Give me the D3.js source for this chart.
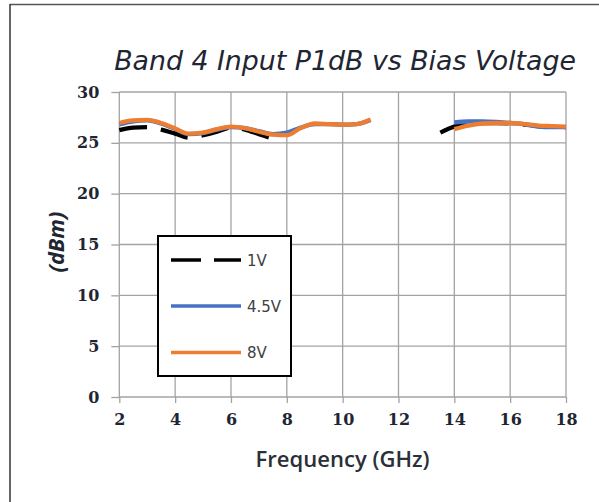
<!DOCTYPE html>
<html><head><meta charset="utf-8">
<script src="https://cdn.jsdelivr.net/npm/d3@7"></script>
<style>body{margin:0;background:#fff;}svg{display:block;}</style>
</head><body>
<script>
const freq = [2,2.5,3,3.5,4,4.5,5,5.5,6,6.5,7,7.5,8,8.5,9,9.5,10,10.5,11,11.5,12,12.5,13,13.5,14,14.5,15,15.5,16,16.5,17,17.5,18];
const p1V  = [26.25,26.5,26.55,26.3,25.9,25.5,25.75,26.1,26.5,26.3,25.85,25.4,null,null,null,null,null,null,null,null,null,null,null,26.0,26.6,26.85,26.95,26.95,26.9,26.8,26.65,26.6,26.55];
const p45V = [26.8,27.1,27.2,26.9,26.35,25.85,25.95,26.3,26.55,26.45,26.15,25.85,26.0,26.5,26.85,26.85,26.8,26.85,27.25,null,null,null,null,null,27.0,27.1,27.1,27.05,26.95,26.85,26.6,26.55,26.55];
const p8V  = [26.95,27.2,27.25,26.95,26.4,25.9,26.0,26.35,26.6,26.45,26.1,25.8,25.75,26.45,26.9,26.85,26.8,26.85,27.3,null,null,null,null,null,26.35,26.7,26.9,26.95,26.95,26.85,26.7,26.65,26.6];
const seriesNames = ["1V","4.5V","8V"];
const seriesColors = ["#000000","#4472C4","#ED7D31"];
const xTicks = [2,4,6,8,10,12,14,16,18];
const yTicks = [0,5,10,15,20,25,30];
const titleText = "Band 4 Input P1dB vs Bias Voltage";
const xTitle = "Frequency (GHz)";
const yTitle = "(dBm)";

const W = 599, H = 502;
const svg = d3.select("body").append("svg").attr("width", W).attr("height", H);

// frame lines (top and left)
svg.append("line").attr("x1",10).attr("x2",W).attr("y1",4.5).attr("y2",4.5).attr("stroke","#555").attr("stroke-width",1.5);
svg.append("line").attr("x1",10).attr("x2",10).attr("y1",4).attr("y2",H).attr("stroke","#333").attr("stroke-width",1.5);

const x = d3.scaleLinear().domain([2,18]).range([119.3,566]);
const y = d3.scaleLinear().domain([0,30]).range([397,92]);

const grid = svg.append("g");
grid.selectAll(".vg").data(xTicks).join("line")
  .attr("x1",d=>x(d)).attr("x2",d=>x(d)).attr("y1",y(30)).attr("y2",y(0))
  .attr("stroke","#a3a3a6").attr("stroke-width",1.3);
grid.selectAll(".hg").data(yTicks).join("line")
  .attr("x1",x(2)).attr("x2",x(18)).attr("y1",d=>y(d)).attr("y2",d=>y(d))
  .attr("stroke","#a3a3a6").attr("stroke-width",1.3);

// axes
const xAxis = svg.append("g").attr("transform",`translate(0,${y(0)})`)
  .call(d3.axisBottom(x).tickValues(xTicks).tickSize(6).tickPadding(11));
const yAxis = svg.append("g").attr("transform",`translate(${x(2)},0)`)
  .call(d3.axisLeft(y).tickValues(yTicks).tickSize(8).tickPadding(12));
[xAxis,yAxis].forEach(a=>{
  a.select(".domain").remove();
  a.selectAll(".tick line").attr("stroke","#a3a3a6").attr("stroke-width",1.3);
  a.selectAll(".tick text").attr("font-family","'DejaVu Serif', serif").attr("font-weight","bold")
    .attr("font-size",16).attr("fill","#1f2633");
});

// lines
const data = [p1V,p45V,p8V];
const line = d3.line().defined(d=>d[1]!=null).x(d=>x(d[0])).y(d=>y(d[1])).curve(d3.curveMonotoneX);
data.forEach((vals,i)=>{
  const pts = freq.map((f,j)=>[f,vals[j]]);
  svg.append("path").attr("d",line(pts)).attr("fill","none")
    .attr("stroke",seriesColors[i]).attr("stroke-width",4.3)
    .attr("stroke-linejoin","round")
    .attr("stroke-dasharray", i===0 ? "28,14" : null);
});

// legend
const lg = svg.append("g");
lg.append("rect").attr("x",158).attr("y",236).attr("width",133).attr("height",140)
  .attr("fill","#fff").attr("stroke","#000").attr("stroke-width",2);
const ly = [260,306,352.5];
seriesNames.forEach((n,i)=>{
  lg.append("line").attr("x1",171).attr("x2",241).attr("y1",ly[i]).attr("y2",ly[i])
    .attr("stroke",seriesColors[i]).attr("stroke-width",3.5)
    .attr("stroke-dasharray", i===0 ? "30,13" : null);
  lg.append("text").attr("x",247).attr("y",ly[i]+5.5).text(n)
    .attr("font-family","'DejaVu Sans', sans-serif").attr("font-size",15).attr("fill","#404040");
});

// title
const t = svg.append("text").attr("x",345).attr("y",70).attr("text-anchor","middle")
  .attr("font-family","'DejaVu Sans', sans-serif").attr("font-style","italic")
  .attr("font-size",22).attr("fill","#1f2633").text(titleText);
const tw = t.node().getComputedTextLength();
t.attr("font-size", 22*462/tw);

const xt = svg.append("text").attr("x",342.6).attr("y",467).attr("text-anchor","middle")
  .attr("font-family","'Open Sans', sans-serif").attr("font-weight",600)
  .attr("font-size",17).attr("fill","#2b2f38").text(xTitle);
const xw = xt.node().getComputedTextLength();
xt.attr("font-size", 17*174/xw);

const yt = svg.append("text").attr("transform","translate(64,242) rotate(-90)").attr("text-anchor","middle")
  .attr("font-family","'Open Sans', sans-serif").attr("font-weight","bold").attr("font-style","italic")
  .attr("font-size",18).attr("fill","#1f2633").text(yTitle);
const yw = yt.node().getComputedTextLength();
yt.attr("font-size", 18*61/yw);
</script>
</body></html>
